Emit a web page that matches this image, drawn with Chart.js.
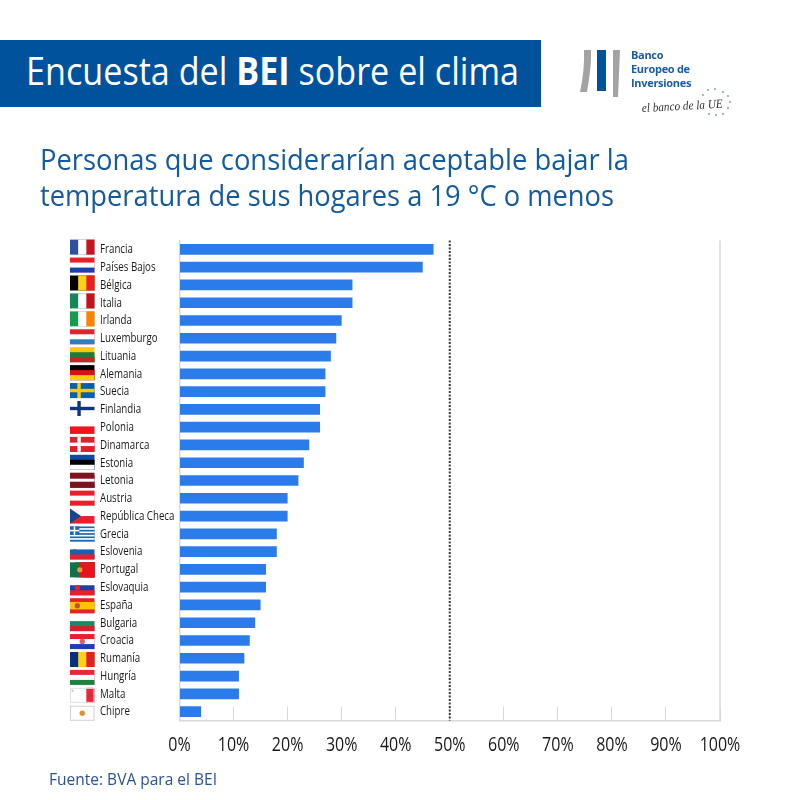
<!DOCTYPE html>
<html lang="es">
<head>
<meta charset="utf-8">
<script src="https://cdn.jsdelivr.net/npm/chart.js@4"></script>
<style>
    html, body { margin: 0; padding: 0; background: #ffffff; }
    #page { position: relative; width: 800px; height: 800px; overflow: hidden; }
    #chart { position: absolute; left: 0; top: 0; }
    #band { position: absolute; left: 0; top: 39.5px; width: 541px; height: 67.5px; background: #00529c; }
    .txt { position: absolute; white-space: nowrap; font-family: "Open Sans", sans-serif; transform-origin: left top; }
    #title { left: 26px; top: 42.5px; font-size: 39px; line-height: 54px; color: #ffffff; }
    .sub { left: 40px; font-size: 29px; line-height: 40px; color: #145a9e; }
    #source { left: 49px; top: 767px; font-size: 16.5px; line-height: 24px; color: #2a5298; }
    #logo { position: absolute; left: 570px; top: 40px; }
</style>
</head>
<body>
<div id="page">
    <canvas id="chart" width="800" height="800"></canvas>
    <div id="band"></div>
    <div class="txt" id="title" data-w="493">Encuesta del <b>BEI</b> sobre el clima</div>
    <div class="txt sub" style="top:139px" data-w="589">Personas que considerarían aceptable bajar la</div>
    <div class="txt sub" style="top:175px" data-w="574">temperatura de sus hogares a 19 °C o menos</div>
    <div class="txt" id="source" data-w="168">Fuente: BVA para el BEI</div>
    <svg id="logo" width="170" height="85" viewBox="570 40 170 85">
        <path d="M584 50 L591 50 C591.5 65 589 80 587 92 L580 92 C583 78 584.5 65 584 50 Z" fill="#a3a3a3"/>
        <rect x="597" y="50" width="9" height="41" fill="#00529c"/>
        <path d="M613 50 L620 50 L618 97 L613 97 Z" fill="#a3a3a3"/>
        <g font-family="Open Sans" font-weight="700" font-size="11" fill="#1b5ca8" letter-spacing="-0.3">
            <text x="631" y="59">Banco</text>
            <text x="631" y="73">Europeo de</text>
            <text x="631" y="87">Inversiones</text>
        </g>
        <text x="642" y="112" transform="rotate(-3 642 112)" textLength="81" lengthAdjust="spacingAndGlyphs" font-family="Liberation Serif" font-style="italic" font-size="12.5" fill="#333333">el banco de la UE</text>
        <g fill="#7d93b5">
            <circle cx="703" cy="95" r="0.9"/><circle cx="708" cy="90" r="0.9"/><circle cx="715" cy="89" r="0.9"/>
            <circle cx="723" cy="92" r="0.9"/><circle cx="728" cy="96" r="0.9"/><circle cx="730" cy="102" r="0.9"/>
            <circle cx="728" cy="108" r="0.9"/><circle cx="723" cy="114" r="0.9"/><circle cx="716" cy="115" r="0.9"/>
            <circle cx="709" cy="114" r="0.9"/>
        </g>
    </svg>
</div>

<script>
const categories = [
    "Francia", "Países Bajos", "Bélgica", "Italia", "Irlanda", "Luxemburgo", "Lituania",
    "Alemania", "Suecia", "Finlandia", "Polonia", "Dinamarca", "Estonia", "Letonia",
    "Austria", "República Checa", "Grecia", "Eslovenia", "Portugal", "Eslovaquia",
    "España", "Bulgaria", "Croacia", "Rumanía", "Hungría", "Malta", "Chipre"
];
const shares = [47, 45, 32, 32, 30, 29, 28, 27, 27, 26, 26, 24, 23, 22, 20, 20, 18, 18, 16, 16, 15, 14, 13, 12, 11, 11, 4];
const xTickValues = [0, 10, 20, 30, 40, 50, 60, 70, 80, 90, 100];
const referenceLine = 50;

// flag look-up: stripes are horizontal (h) or vertical (v), same order as the categories
const flags = [
    { v: ["#2f4f9f", "#ffffff", "#c8141e"] },
    { h: ["#e8202c", "#ffffff", "#1a3fb0"] },
    { v: ["#000000", "#fcd116", "#ef1c26"] },
    { v: ["#14865a", "#ffffff", "#c4111b"] },
    { v: ["#169b4b", "#ffffff", "#ff8200"] },
    { h: ["#e0242e", "#ffffff", "#2f7fc0"] },
    { h: ["#fdc70c", "#1f7a3a", "#c1272d"] },
    { h: ["#000000", "#d8101a", "#ffce00"] },
    { h: ["#0b5ea8", "#0b5ea8"], cross: "#fecb00" },
    { h: ["#ffffff", "#ffffff"], cross: "#10357f" },
    { h: ["#ffffff", "#f0141e"] },
    { h: ["#e0202c", "#e0202c"], cross: "#ffffff" },
    { h: ["#0b4ea2", "#000000", "#ffffff"] },
    { h: ["#7d1420", "#7d1420", "#ffffff", "#7d1420", "#7d1420"] },
    { h: ["#e8202c", "#ffffff", "#e8202c"] },
    { h: ["#ffffff", "#e8202c"], wedge: "#17458f" },
    { h: ["#1a66b0", "#ffffff", "#1a66b0", "#ffffff", "#1a66b0", "#ffffff", "#1a66b0", "#ffffff", "#1a66b0"], canton: "#1a66b0" },
    { h: ["#ffffff", "#1a62b0", "#e8202c"], badge: "#1a62b0", badgeAt: 0.2 },
    { v: ["#14704a", "#14704a", "#e8141e", "#e8141e", "#e8141e"], badge: "#e0a030", badgeAt: 0.4 },
    { h: ["#ffffff", "#1a3fb0", "#e8202c"], badge: "#e8202c", badgeAt: 0.3 },
    { h: ["#e8202c", "#fcc30b", "#fcc30b", "#e8202c"], badge: "#c2541a", badgeAt: 0.3 },
    { h: ["#ffffff", "#1c8a60", "#d8202a"] },
    { h: ["#e8202c", "#ffffff", "#1a3fb0"], badge: "#d8606a", badgeAt: 0.5 },
    { v: ["#0b2f80", "#fcd116", "#e0202c"] },
    { h: ["#e8283a", "#ffffff", "#20803f"] },
    { v: ["#ffffff", "#ffffff", "#e8283a"], badge: "#bbbbbb", badgeAt: 0.1, badgeR: 1, outline: "#e0e0e0" },
    { h: ["#ffffff", "#ffffff"], badge: "#e89030", badgeAt: 0.5, outline: "#d0d0d0" }
];

function drawFlag(ctx, flag, x, y, w, h) {
    ctx.save();
    // each stripe runs to the far edge and the next paints over it, so no seams show
    if (flag.h) {
        flag.h.forEach((c, i) => {
            const top = i * h / flag.h.length;
            ctx.fillStyle = c;
            ctx.fillRect(x, y + top, w, h - top);
        });
    } else {
        flag.v.forEach((c, i) => {
            const left = i * w / flag.v.length;
            ctx.fillStyle = c;
            ctx.fillRect(x + left, y, w - left, h);
        });
    }
    if (flag.cross) {
        ctx.fillStyle = flag.cross;
        ctx.fillRect(x, y + h / 2 - 1.7, w, 3.4);
        ctx.fillRect(x + w * 0.3, y, 3.4, h);
    }
    if (flag.wedge) {
        ctx.fillStyle = flag.wedge;
        ctx.beginPath();
        ctx.moveTo(x, y);
        ctx.lineTo(x + w * 0.45, y + h / 2);
        ctx.lineTo(x, y + h);
        ctx.fill();
    }
    if (flag.canton) {
        ctx.fillStyle = flag.canton;
        ctx.fillRect(x, y, w * 0.38, h * 0.55);
        ctx.fillStyle = "#ffffff";
        ctx.fillRect(x, y + h * 0.22, w * 0.38, 1.6);
        ctx.fillRect(x + w * 0.15, y, 1.6, h * 0.55);
    }
    if (flag.badge) {
        ctx.fillStyle = flag.badge;
        ctx.beginPath();
        ctx.arc(x + w * flag.badgeAt, y + h * (flag.badgeR ? 0.2 : 0.5), flag.badgeR || 2.7, 0, Math.PI * 2);
        ctx.fill();
    }
    if (flag.outline) {
        ctx.strokeStyle = flag.outline;
        ctx.lineWidth = 1;
        ctx.strokeRect(x + 0.5, y + 0.5, w - 1, h - 1);
    }
    ctx.restore();
}

// no condensed font is installed, so the tick labels are squeezed by hand
function drawNarrowText(ctx, text, x, y, align, font, squeeze) {
    ctx.save();
    ctx.translate(x, y);
    ctx.scale(squeeze, 1);
    ctx.font = font;
    ctx.fillStyle = "#1a1a1a";
    ctx.textAlign = align;
    ctx.textBaseline = "alphabetic";
    ctx.fillText(text, 0, 0);
    ctx.restore();
}

const decorations = {
    id: "decorations",
    afterDraw(chart) {
        const { ctx, chartArea } = chart;
        const xScale = chart.scales.x;
        const yScale = chart.scales.y;

        // right border at 100%
        ctx.save();
        ctx.strokeStyle = "#d9d9d9";
        ctx.lineWidth = 1.5;
        ctx.beginPath();
        ctx.moveTo(xScale.getPixelForValue(100), chartArea.top);
        ctx.lineTo(xScale.getPixelForValue(100), chartArea.bottom);
        ctx.stroke();

        // dotted 50% line
        ctx.strokeStyle = "#3c3c3c";
        ctx.lineWidth = 2;
        ctx.setLineDash([2, 1.5]);
        ctx.beginPath();
        ctx.moveTo(xScale.getPixelForValue(referenceLine), chartArea.top);
        ctx.lineTo(xScale.getPixelForValue(referenceLine), chartArea.bottom);
        ctx.stroke();
        ctx.restore();

        xTickValues.forEach(v => {
            drawNarrowText(ctx, v + "%", xScale.getPixelForValue(v), 750.5, "center", "20px 'Open Sans', sans-serif", 0.8);
        });

        // flags sit next to the labels, slightly wider spaced than the bars
        categories.forEach((name, i) => {
            const cy = yScale.getPixelForTick(i);
            drawFlag(ctx, flags[i], 70, cy - 9.75 + i * 0.15, 24.5, 15);
            drawNarrowText(ctx, name, 100, cy + 3.8, "left", "500 13.5px 'Open Sans', sans-serif", 0.72);
        });
    }
};

new Chart(document.getElementById("chart"), {
    type: "bar",
    data: {
        labels: categories,
        datasets: [{
            data: shares,
            backgroundColor: "#2b7cea",
            barPercentage: 0.6,
            categoryPercentage: 1
        }]
    },
    options: {
        indexAxis: "y",
        responsive: false,
        animation: false,
        layout: { padding: { left: 100, top: 240.5, right: 80, bottom: 0 } },
        plugins: { legend: { display: false }, tooltip: { enabled: false } },
        scales: {
            x: {
                min: 0,
                max: 100,
                afterBuildTicks: scale => { scale.ticks = xTickValues.map(v => ({ value: v })); },
                afterFit: scale => { scale.height = 79.5; },
                grid: { drawOnChartArea: false, color: "#d9d9d9", lineWidth: 1, tickLength: -14 },
                border: { color: "#d9d9d9", width: 1.5 },
                ticks: { display: false }
            },
            y: {
                afterFit: scale => { scale.width = 79.5; },
                grid: { display: false },
                border: { color: "#d9d9d9", width: 1.5 },
                ticks: { display: false, autoSkip: false }
            }
        }
    },
    plugins: [decorations]
});

// squeeze the wide fallback font to the widths in the reference
document.querySelectorAll(".txt").forEach(el => {
    const natural = el.getBoundingClientRect().width;
    el.style.transform = "scaleX(" + (el.dataset.w / natural) + ")";
});
</script>
</body>
</html>
